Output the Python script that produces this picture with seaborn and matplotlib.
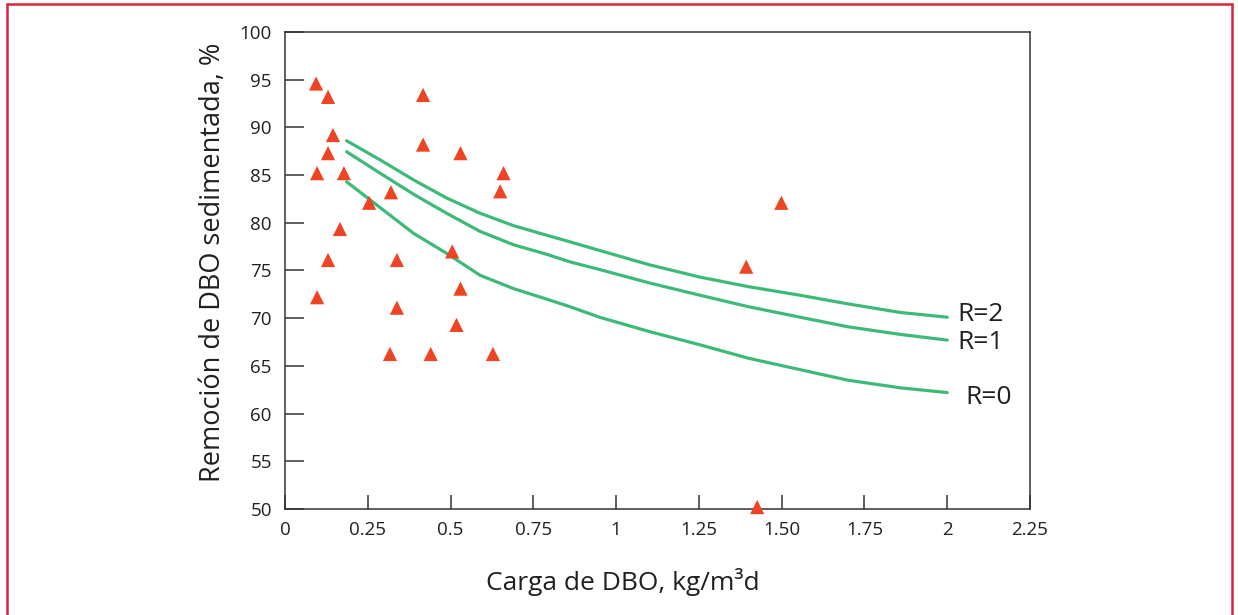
import numpy as np
import pandas as pd
import matplotlib
matplotlib.use("Agg")
import matplotlib.pyplot as plt
import seaborn as sns
from matplotlib.lines import Line2D

# --- datos: puntos medidos ---
carga = [0.094, 0.13, 0.145, 0.13, 0.097, 0.178, 0.32, 0.254, 0.166, 0.13,
         0.338, 0.097, 0.417, 0.417, 0.53, 0.66, 0.65, 0.505, 0.53, 0.338,
         0.518, 0.317, 0.44, 0.628, 1.393, 1.499, 1.426]
remocion = [94.6, 93.2, 89.2, 87.3, 85.2, 85.2, 83.2, 82.1, 79.35, 76.1,
            76.1, 72.2, 93.4, 88.2, 87.3, 85.2, 83.3, 77.0, 73.1, 71.1,
            69.3, 66.25, 66.25, 66.25, 75.4, 82.1, 50.2]

# --- curvas de recirculación ---
x_curva = [0.186, 0.287, 0.388, 0.488, 0.589, 0.69, 0.79, 0.861, 0.95, 1.1,
           1.254, 1.4, 1.556, 1.7, 1.858, 2.0]
r2 = [88.6, 86.6, 84.5, 82.6, 81.0, 79.7, 78.7, 78.0, 77.1, 75.6,
      74.3, 73.3, 72.4, 71.5, 70.6, 70.1]
r1 = [87.45, 85.2, 83.0, 81.0, 79.1, 77.7, 76.7, 75.9, 75.1, 73.7,
      72.4, 71.2, 70.1, 69.1, 68.3, 67.7]
r0 = [84.3, 81.6, 78.9, 76.8, 74.5, 73.1, 72.0, 71.2, 70.1, 68.6,
      67.2, 65.8, 64.6, 63.5, 62.7, 62.2]
etiquetas = ["R=2", "R=1", "R=0"]
etiqueta_y = [70.4, 67.4, 61.7]

x_ticks = [0, 0.25, 0.5, 0.75, 1, 1.25, 1.5, 1.75, 2, 2.25]
x_ticklabels = ["0", "0.25", "0.5", "0.75", "1", "1.25", "1.50", "1.75", "2", "2.25"]
y_ticks = list(range(50, 101, 5))

df_pts = pd.DataFrame({"carga": carga, "remocion": remocion})
df_curvas = pd.concat([
    pd.DataFrame({"x": x_curva, "y": r2, "R": "R=2"}),
    pd.DataFrame({"x": x_curva, "y": r1, "R": "R=1"}),
    pd.DataFrame({"x": x_curva, "y": r0, "R": "R=0"}),
])

sns.set_theme(style="white")
plt.rcParams.update({
    "font.family": ["Open Sans", "DejaVu Sans"],
    "xtick.bottom": True,
    "ytick.left": True,
    "xtick.direction": "in",
    "ytick.direction": "in",
    "xtick.major.size": 10,
    "ytick.major.size": 13.7,
    "xtick.major.width": 1.1,
    "ytick.major.width": 1.1,
})
texto = "#231f20"
verde = "#3dba78"
rojo = "#ee4423"

fig = plt.figure(figsize=(12.38, 6.15), dpi=100)
ax = fig.add_axes([0.2302, 0.1724, 0.6018, 0.7756])

sns.lineplot(data=df_curvas, x="x", y="y", units="R", estimator=None,
             color=verde, linewidth=2.3, ax=ax, legend=False)
sns.scatterplot(data=df_pts, x="carga", y="remocion", marker="^", s=105,
                color=rojo, edgecolor="none", ax=ax, clip_on=False, zorder=5)

for lab, yy, xx in zip(etiquetas, etiqueta_y, [2.03, 2.03, 2.055]):
    ax.text(xx, yy, lab, fontsize=19, color=texto, va="center", ha="left")

ax.set_xlim(0, 2.25)
ax.set_ylim(50, 100)
ax.set_xticks(x_ticks)
ax.set_xticklabels(x_ticklabels)
ax.set_yticks(y_ticks)
ax.xaxis.set_ticks_position("bottom")
ax.yaxis.set_ticks_position("left")
ax.tick_params(axis="both", which="major", direction="in", color="#333333",
               labelcolor=texto, labelsize=13.5, width=1.1)
ax.tick_params(axis="x", length=10, pad=9)
ax.tick_params(axis="y", length=13.7, pad=9.5)
for s in ax.spines.values():
    s.set_color("#333333")
    s.set_linewidth(1.1)

ax.set_xlabel("")
ax.set_ylabel("Remoción de DBO sedimentada, %", fontsize=19.5, color=texto)
ax.yaxis.set_label_coords(-0.078, 0.518)
fig.text(623 / 1238, 1 - 582 / 615, "Carga de DBO, kg/m³d", fontsize=19,
         color=texto, ha="center", va="center")

# marco rojo
marco = "#d7263d"
fig.add_artist(Line2D([7 / 1238, 7 / 1238], [-0.05, 1 - 4 / 615], color=marco, lw=1.8,
                      transform=fig.transFigure))
fig.add_artist(Line2D([1232 / 1238, 1232 / 1238], [-0.05, 1 - 4 / 615], color=marco, lw=1.8,
                      transform=fig.transFigure))
fig.add_artist(Line2D([7 / 1238, 1232 / 1238], [1 - 4 / 615, 1 - 4 / 615], color=marco, lw=1.8,
                      transform=fig.transFigure))

fig.savefig("out.png", dpi=100)
